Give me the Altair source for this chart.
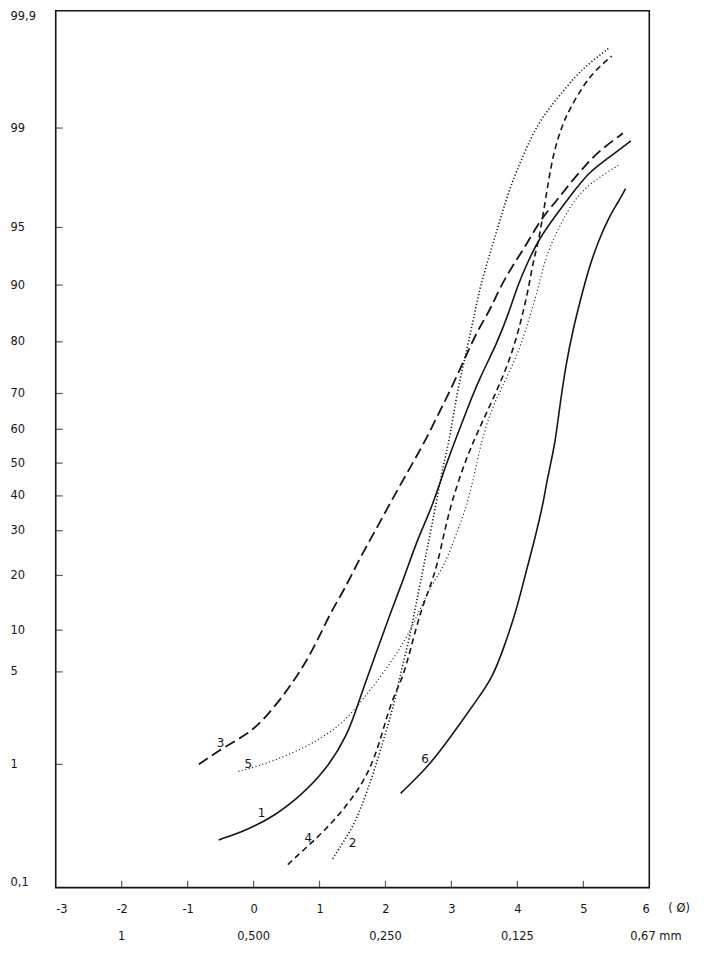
import altair as alt
import pandas as pd
from statistics import NormalDist

# ---- axis ticks (probability paper) ----
y_ticks_pct = [0.1, 1, 5, 10, 20, 30, 40, 50, 60, 70, 80, 90, 95, 99, 99.9]
# printed position of each probability line on this sheet (px from top of plot)
y_tick_pos = [882, 758, 665, 623, 568, 523, 488, 455, 421, 385, 333, 276, 218, 118, 0]
x_ticks = [-3, -2, -1, 0, 1, 2, 3, 4, 5, 6]
mm_pos = [-2, 0, 2, 4, 6.1]
mm_labels = ["1", "0,500", "0,250", "0,125", "0,67 mm"]

# ---- cumulative curves (phi, cumulative %) ----
c1_x = [-0.53, -0.12, 0.33, 0.72, 1.08, 1.43, 1.61, 1.88, 2.08, 2.29, 2.48, 2.71, 2.89, 3.04, 3.23, 3.43, 3.69, 3.88, 3.99, 4.14, 4.33, 4.59, 4.85, 5.09, 5.34, 5.72]
c1_p = [0.26, 0.31, 0.41, 0.59, 0.89, 1.73, 3.3, 7.4, 12.8, 19.8, 27.8, 36.8, 47.9, 55.9, 65.4, 73.3, 79.7, 86.0, 89.6, 92.1, 94.25, 95.85, 97.06, 97.86, 98.25, 98.74]

c2_x = [1.20, 1.38, 1.53, 1.73, 1.92, 2.14, 2.21, 2.36, 2.45, 2.53, 2.63, 2.78, 2.86, 2.98, 3.08, 3.23, 3.36, 3.43, 3.58, 3.73, 3.88, 4.09, 4.32, 4.59, 4.89, 5.09, 5.39]
c2_p = [0.18, 0.26, 0.35, 0.64, 1.28, 3.1, 4.5, 8.7, 13.3, 18.5, 25.5, 38.8, 47.9, 57.7, 70.0, 78.4, 86.0, 89.6, 93.0, 95.4, 97.2, 98.4, 99.1, 99.4, 99.62, 99.70, 99.78]

c3_x = [-0.83, -0.48, -0.12, 0.12, 0.40, 0.60, 0.78, 0.98, 1.17, 1.38, 1.62, 1.88, 2.18, 2.44, 2.63, 2.83, 2.98, 3.19, 3.39, 3.58, 3.73, 3.94, 4.14, 4.36, 4.59, 4.79, 5.04, 5.24, 5.60]
c3_p = [1.0, 1.36, 1.73, 2.2, 3.2, 4.3, 5.8, 8.7, 12.8, 17.0, 23.9, 31.1, 41.8, 50.9, 57.7, 65.4, 70.6, 76.6, 82.3, 86.0, 89.6, 92.1, 93.8, 95.6, 96.6, 97.4, 98.1, 98.5, 98.9]

c4_x = [0.52, 0.78, 1.08, 1.43, 1.73, 1.92, 2.08, 2.26, 2.38, 2.53, 2.66, 2.78, 2.89, 3.01, 3.23, 3.43, 3.64, 3.84, 3.99, 4.09, 4.17, 4.24, 4.32, 4.39, 4.47, 4.56, 4.70, 4.79, 5.00, 5.19, 5.43]
c4_p = [0.16, 0.22, 0.31, 0.50, 0.83, 1.55, 3.1, 4.5, 7.4, 12.8, 17.0, 21.8, 29.5, 38.8, 51.8, 60.6, 68.9, 75.3, 80.9, 86.0, 89.6, 92.4, 94.0, 95.85, 97.5, 98.55, 99.1, 99.28, 99.54, 99.66, 99.74]

c5_x = [-0.23, 0.07, 0.52, 0.98, 1.35, 1.67, 1.98, 2.29, 2.53, 2.68, 2.89, 3.08, 3.27, 3.43, 3.58, 3.76, 4.03, 4.18, 4.32, 4.41, 4.55, 4.70, 4.85, 5.09, 5.31, 5.54]
c5_p = [0.89, 0.97, 1.19, 1.58, 2.14, 3.27, 5.0, 8.3, 13.3, 17.6, 21.8, 29.5, 38.8, 54.7, 64.5, 71.2, 78.4, 84.8, 89.6, 92.4, 94.25, 95.6, 96.6, 97.4, 97.76, 98.1]

c6_x = [2.23, 2.59, 2.78, 3.08, 3.43, 3.61, 3.79, 3.99, 4.09, 4.29, 4.41, 4.44, 4.55, 4.59, 4.64, 4.74, 4.85, 4.95, 5.09, 5.24, 5.39, 5.52, 5.64]
c6_p = [0.61, 0.91, 1.19, 1.96, 3.43, 4.5, 7.4, 13.3, 18.5, 29.5, 39.7, 43.9, 53.9, 58.8, 66.2, 76.2, 82.9, 87.6, 91.9, 94.2, 95.7, 96.5, 97.2]

# curve number labels
lab_x = [0.12, 1.50, -0.50, 0.83, -0.08, 2.60]
lab_p = [0.43, 0.245, 1.49, 0.27, 1.0, 1.12]
lab_text = ["1", "2", "3", "4", "5", "6"]

series = {
    "1": (c1_x, c1_p),
    "2": (c2_x, c2_p),
    "3": (c3_x, c3_p),
    "4": (c4_x, c4_p),
    "5": (c5_x, c5_p),
    "6": (c6_x, c6_p),
}
styles = {
    "1": dict(strokeWidth=1.6),
    "2": dict(strokeWidth=1.6, strokeDash=[1.2, 2.2]),
    "3": dict(strokeWidth=1.8, strokeDash=[11, 5]),
    "4": dict(strokeWidth=1.6, strokeDash=[6, 4]),
    "5": dict(strokeWidth=1.2, strokeDash=[1, 2.6]),
    "6": dict(strokeWidth=1.6),
}

INK = "#151515"
FONT = "DejaVu Sans"

zdom = [NormalDist().inv_cdf(p / 100.0) for p in y_ticks_pct]
ysc = alt.Scale(domain=zdom, range=y_tick_pos, nice=False, zero=False)
xsc = alt.Scale(domain=[-3, 6], nice=False, zero=False)
ZCALC = "quantileNormal(datum.p / 100)"

layers = []

# axes carrier (invisible) layer
axis_df = pd.DataFrame({"p": y_ticks_pct})
axis_layer = alt.Chart(axis_df).mark_point(opacity=0).transform_calculate(z=ZCALC, xx="0").encode(
    x=alt.X("xx:Q", scale=xsc, axis=alt.Axis(values=x_ticks, labelExpr="toString(datum.value)",
                                             labelPadding=16, title=None)),
    y=alt.Y("z:Q", scale=ysc, axis=alt.Axis(values=zdom, labelAlign="left", labelPadding=46,
                                            labelFlush=True,
                                            labelExpr="replace(toString(round(cumulativeNormal(datum.value) * 1000) / 10), '.', ',')",
                                            title=None)),
)
layers.append(axis_layer)

for key, (xs, ps) in series.items():
    df = pd.DataFrame({"x": xs, "p": ps})
    st = styles[key]
    layers.append(
        alt.Chart(df).mark_line(color=INK, interpolate="basis", **st)
        .transform_calculate(z=ZCALC)
        .encode(x=alt.X("x:Q", scale=xsc), y=alt.Y("z:Q", scale=ysc))
    )

# inner ticks on the left axis
lt = pd.DataFrame({"p": y_ticks_pct[1:-1]})
layers.append(
    alt.Chart(lt).mark_tick(orient="horizontal", size=7, thickness=1.2, xOffset=3.5, color=INK)
    .transform_calculate(z=ZCALC)
    .encode(x=alt.datum(-3), y=alt.Y("z:Q", scale=ysc))
)
# inner ticks on the bottom axis
bt = pd.DataFrame({"x": x_ticks[1:-1]})
layers.append(
    alt.Chart(bt).mark_tick(orient="vertical", size=7, thickness=1.2, yOffset=-3.5, color=INK)
    .encode(x=alt.X("x:Q", scale=xsc), y=alt.datum(zdom[0]))
)

# curve labels
ld = pd.DataFrame({"x": lab_x, "p": lab_p, "t": lab_text})
layers.append(
    alt.Chart(ld).mark_text(font=FONT, fontSize=12, color=INK)
    .transform_calculate(z=ZCALC)
    .encode(x=alt.X("x:Q", scale=xsc), y=alt.Y("z:Q", scale=ysc), text="t:N")
)

# second row of x labels (grain size in mm)
md = pd.DataFrame({"x": mm_pos, "t": mm_labels})
layers.append(
    alt.Chart(md).mark_text(font=FONT, fontSize=11.5, color=INK, dy=50)
    .encode(x=alt.X("x:Q", scale=xsc), y=alt.datum(zdom[0]), text="t:N")
)
# phi unit label
layers.append(
    alt.Chart(pd.DataFrame({"t": ["( Ø)"]})).mark_text(font=FONT, fontSize=11.5, color=INK, dx=30, dy=22)
    .encode(x=alt.datum(6), y=alt.datum(zdom[0]), text="t:N")
)

chart = alt.layer(*layers).properties(
    width=597,
    height=882,
    autosize=alt.AutoSizeParams(type="none"),
    padding={"left": 48, "top": 0, "right": 50, "bottom": 62},
    background="white",
).configure_view(
    stroke=INK, strokeWidth=1.6
).configure_axis(
    domain=False, ticks=False, tickSize=0, grid=False,
    labelFont=FONT, labelFontSize=11.5, labelColor=INK,
)

chart.save("out.html", embed_options={"renderer": "svg", "actions": False})
